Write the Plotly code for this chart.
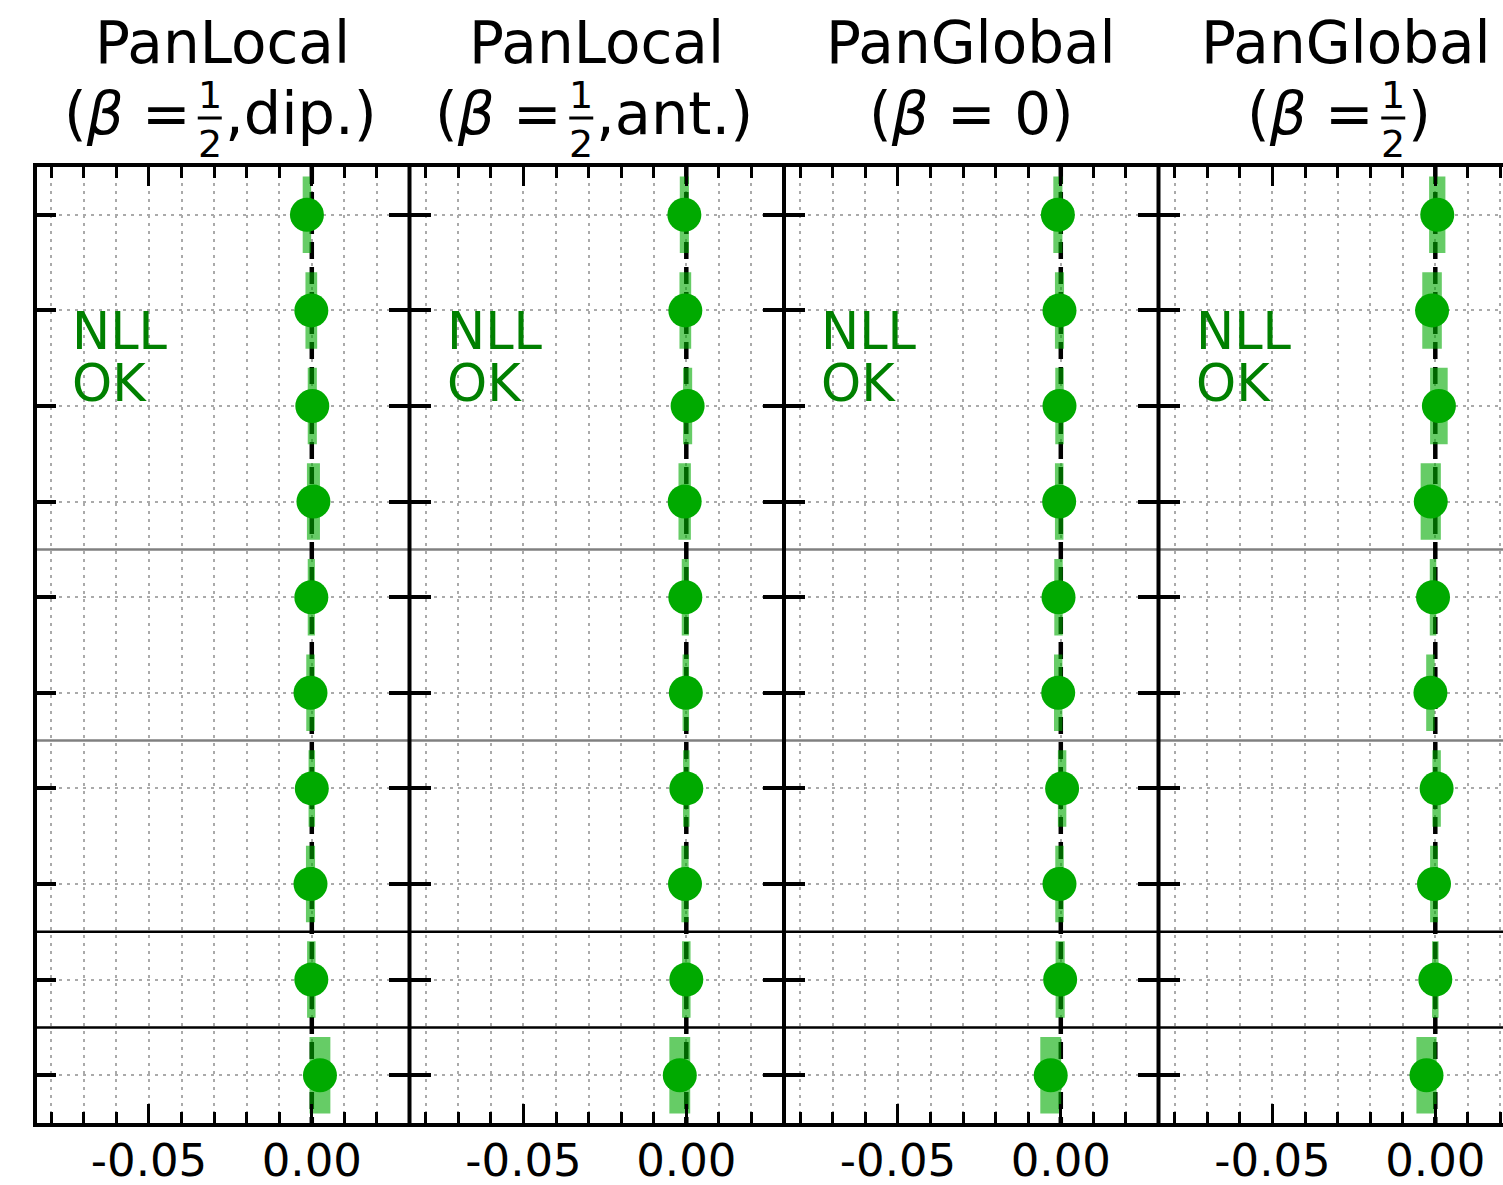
import plotly.graph_objects as go

# ---------------- data ----------------
rows = list(range(10))  # row index, top to bottom

panel_titles = ["PanLocal", "PanLocal", "PanGlobal", "PanGlobal"]
panel_sub_left = ["(<i>β</i> =", "(<i>β</i> =", "(<i>β</i> = 0)", "(<i>β</i> ="]
panel_sub_right = [",dip.)", ",ant.)", None, ")"]
panel_has_frac = [True, True, False, True]

pl_dip = [-0.0015, -0.00015, 0.00015, 0.0005, -0.00015, -0.0004, 0.0, -0.0004, -0.00015, 0.0025]
pl_dip_err = [0.0013, 0.0018, 0.0014, 0.0020, 0.0011, 0.0013, 0.0010, 0.0014, 0.0013, 0.0032]
pl_ant = [-0.0006, -0.0003, 0.0004, -0.0005, -0.0003, -0.00015, 0.0, -0.0004, 0.0, -0.0020]
pl_ant_err = [0.0014, 0.0018, 0.0014, 0.0019, 0.0011, 0.0010, 0.0010, 0.0011, 0.0013, 0.0032]
pg_b0 = [-0.0009, -0.0004, -0.0004, -0.0005, -0.0007, -0.0008, 0.0004, -0.0004, -0.0002, -0.0031]
pg_b0_err = [0.0014, 0.0014, 0.0013, 0.0013, 0.0013, 0.0013, 0.0013, 0.0013, 0.0014, 0.0032]
pg_bh = [0.0006, -0.0010, 0.0011, -0.0014, -0.0007, -0.0015, 0.0004, -0.0004, 0.0, -0.0027]
pg_bh_err = [0.0025, 0.0030, 0.0027, 0.0031, 0.0010, 0.0013, 0.0013, 0.0012, 0.0010, 0.0031]

values = [pl_dip, pl_ant, pg_b0, pg_bh]
errors = [pl_dip_err, pl_ant_err, pg_b0_err, pg_bh_err]

x_tickvals = [-0.05, 0.0]
x_ticktext = ["-0.05", "0.00"]
grey_separators = [3.5, 5.5]
black_separators = [7.5, 8.5]
BOX_HALF = 0.4  # half height of the uncertainty boxes (in row units)

# ---------------- layout constants ----------------
W, H = 1503, 1185
XMIN, XMAX = -0.085, 0.03
LEFT_PX = 35.0
PANEL_PX = 374.5
TOP_PX, BOT_PX = 167.0, 1123.0
FONT = "DejaVu Sans"
GREEN = "#00aa00"
BAND = "rgba(0,170,0,0.6)"
GRID = "#aaaaaa"
frac_offset_px = [-12.5, -15.5, 0.0, 47.5]
TITLE_FS = 58

fig = go.Figure()
shapes = []
annotations = []

for i in range(4):
    ax = "" if i == 0 else str(i + 1)
    x0px = LEFT_PX + i * PANEL_PX
    x1px = min(x0px + PANEL_PX, W)
    vis_frac = (x1px - x0px) / PANEL_PX
    xmax = XMIN + (XMAX - XMIN) * vis_frac

    vals, errs = values[i], errors[i]

    # dashed reference line at zero (drawn first, under the boxes)
    fig.add_trace(go.Scatter(
        x=[0, 0], y=[rows[0] - 0.5, rows[-1] + 0.5], mode="lines",
        line=dict(color="black", width=4.5, dash="17px,8px"),
        xaxis="x" + ax, yaxis="y" + ax, showlegend=False, hoverinfo="skip"))

    # uncertainty boxes as filled polygons
    bx, by = [], []
    for r, v, e in zip(rows, vals, errs):
        bx += [v - e, v + e, v + e, v - e, v - e, None]
        by += [r - BOX_HALF, r - BOX_HALF, r + BOX_HALF, r + BOX_HALF, r - BOX_HALF, None]
    fig.add_trace(go.Scatter(
        x=bx, y=by, mode="lines", fill="toself", fillcolor=BAND,
        line=dict(width=0, color="rgba(0,0,0,0)"),
        xaxis="x" + ax, yaxis="y" + ax, showlegend=False, hoverinfo="skip"))

    # points
    fig.add_trace(go.Scatter(
        x=vals, y=rows, mode="markers",
        marker=dict(color=GREEN, size=34, line=dict(width=0)),
        xaxis="x" + ax, yaxis="y" + ax, showlegend=False))

    fig.layout["xaxis" + ax] = dict(
        domain=[x0px / W, x1px / W], anchor="y" + ax, range=[XMIN, xmax],
        tickmode="array", tickvals=x_tickvals, ticktext=x_ticktext,
        ticks="inside", ticklen=19, tickwidth=3, tickcolor="black",
        showline=True, linewidth=4, linecolor="black", mirror="ticks",
        showgrid=True, gridcolor=GRID, gridwidth=2, griddash="3px,5px",
        zeroline=False, automargin=False, ticklabelstandoff=-5,
        tickfont=dict(family=FONT, size=45, color="black"),
        minor=dict(dtick=0.01, tick0=0, ticks="inside", ticklen=11, tickwidth=3,
                   tickcolor="black", showgrid=True, gridcolor=GRID, gridwidth=2,
                   griddash="3px,5px"),
        fixedrange=True)
    fig.layout["yaxis" + ax] = dict(
        domain=[1 - BOT_PX / H, 1 - TOP_PX / H], anchor="x" + ax,
        range=[rows[-1] + 0.5, rows[0] - 0.5], tickmode="array", tickvals=rows,
        showticklabels=False, automargin=False,
        ticks="inside", ticklen=21, tickwidth=3.5, tickcolor="black",
        showline=False, mirror=("ticks" if i < 3 else False),
        showgrid=True, gridcolor=GRID, gridwidth=2, griddash="3px,5px",
        zeroline=False, fixedrange=True)

    for s in grey_separators:
        shapes.append(dict(type="line", xref="paper", yref="y" + ax,
                           x0=x0px / W, x1=x1px / W, y0=s, y1=s, layer="below",
                           line=dict(color="#808080", width=2.5)))
    for s in black_separators:
        shapes.append(dict(type="line", xref="paper", yref="y" + ax,
                           x0=x0px / W, x1=x1px / W, y0=s, y1=s, layer="below",
                           line=dict(color="black", width=2.5)))
    # vertical spine (left of each panel)
    shapes.append(dict(type="line", xref="paper", yref="paper",
                       x0=x0px / W, x1=x0px / W, y0=1 - (BOT_PX + 4) / H, y1=1 - (TOP_PX - 4) / H,
                       layer="above", line=dict(color="black", width=4)))

    # titles
    cpx = x0px + PANEL_PX / 2
    annotations.append(dict(text=panel_titles[i], xref="paper", yref="paper",
                            x=cpx / W, y=1 - 43.5 / H, xanchor="center", yanchor="middle",
                            showarrow=False, font=dict(family=FONT, size=TITLE_FS, color="black")))
    if panel_has_frac[i]:
        fc = cpx + frac_offset_px[i]
        annotations.append(dict(text=panel_sub_left[i], xref="paper", yref="paper",
                                x=(fc - 17) / W, y=1 - 114 / H, xanchor="right", yanchor="middle",
                                showarrow=False, font=dict(family=FONT, size=TITLE_FS, color="black")))
        annotations.append(dict(text=panel_sub_right[i], xref="paper", yref="paper",
                                x=(fc + 13) / W, y=1 - 114 / H, xanchor="left", yanchor="middle",
                                showarrow=False, font=dict(family=FONT, size=TITLE_FS + 1, color="black")))
        annotations.append(dict(text="1", xref="paper", yref="paper",
                                x=fc / W, y=1 - 95 / H, xanchor="center", yanchor="middle",
                                showarrow=False, font=dict(family=FONT, size=38, color="black")))
        annotations.append(dict(text="2", xref="paper", yref="paper",
                                x=fc / W, y=1 - 144 / H, xanchor="center", yanchor="middle",
                                showarrow=False, font=dict(family=FONT, size=38, color="black")))
        shapes.append(dict(type="line", xref="paper", yref="paper",
                           x0=(fc - 12) / W, x1=(fc + 12) / W, y0=1 - 118 / H, y1=1 - 118 / H,
                           line=dict(color="black", width=3)))
    else:
        annotations.append(dict(text=panel_sub_left[i], xref="paper", yref="paper",
                                x=cpx / W, y=1 - 114 / H, xanchor="center", yanchor="middle",
                                showarrow=False, font=dict(family=FONT, size=TITLE_FS, color="black")))

    # NLL / OK labels
    for txt, ypx in (("NLL", 331), ("OK", 384)):
        annotations.append(dict(text=txt, xref="paper", yref="paper",
                                x=(x0px + 35) / W, y=1 - ypx / H, xanchor="left", yanchor="middle",
                                showarrow=False, font=dict(family=FONT, size=51, color="#008000")))

fig.update_layout(
    width=W, height=H, margin=dict(l=0, r=0, t=0, b=0),
    paper_bgcolor="white", plot_bgcolor="white",
    shapes=shapes, annotations=annotations, showlegend=False,
    font=dict(family=FONT, color="black"))

fig.write_html("out.html")
